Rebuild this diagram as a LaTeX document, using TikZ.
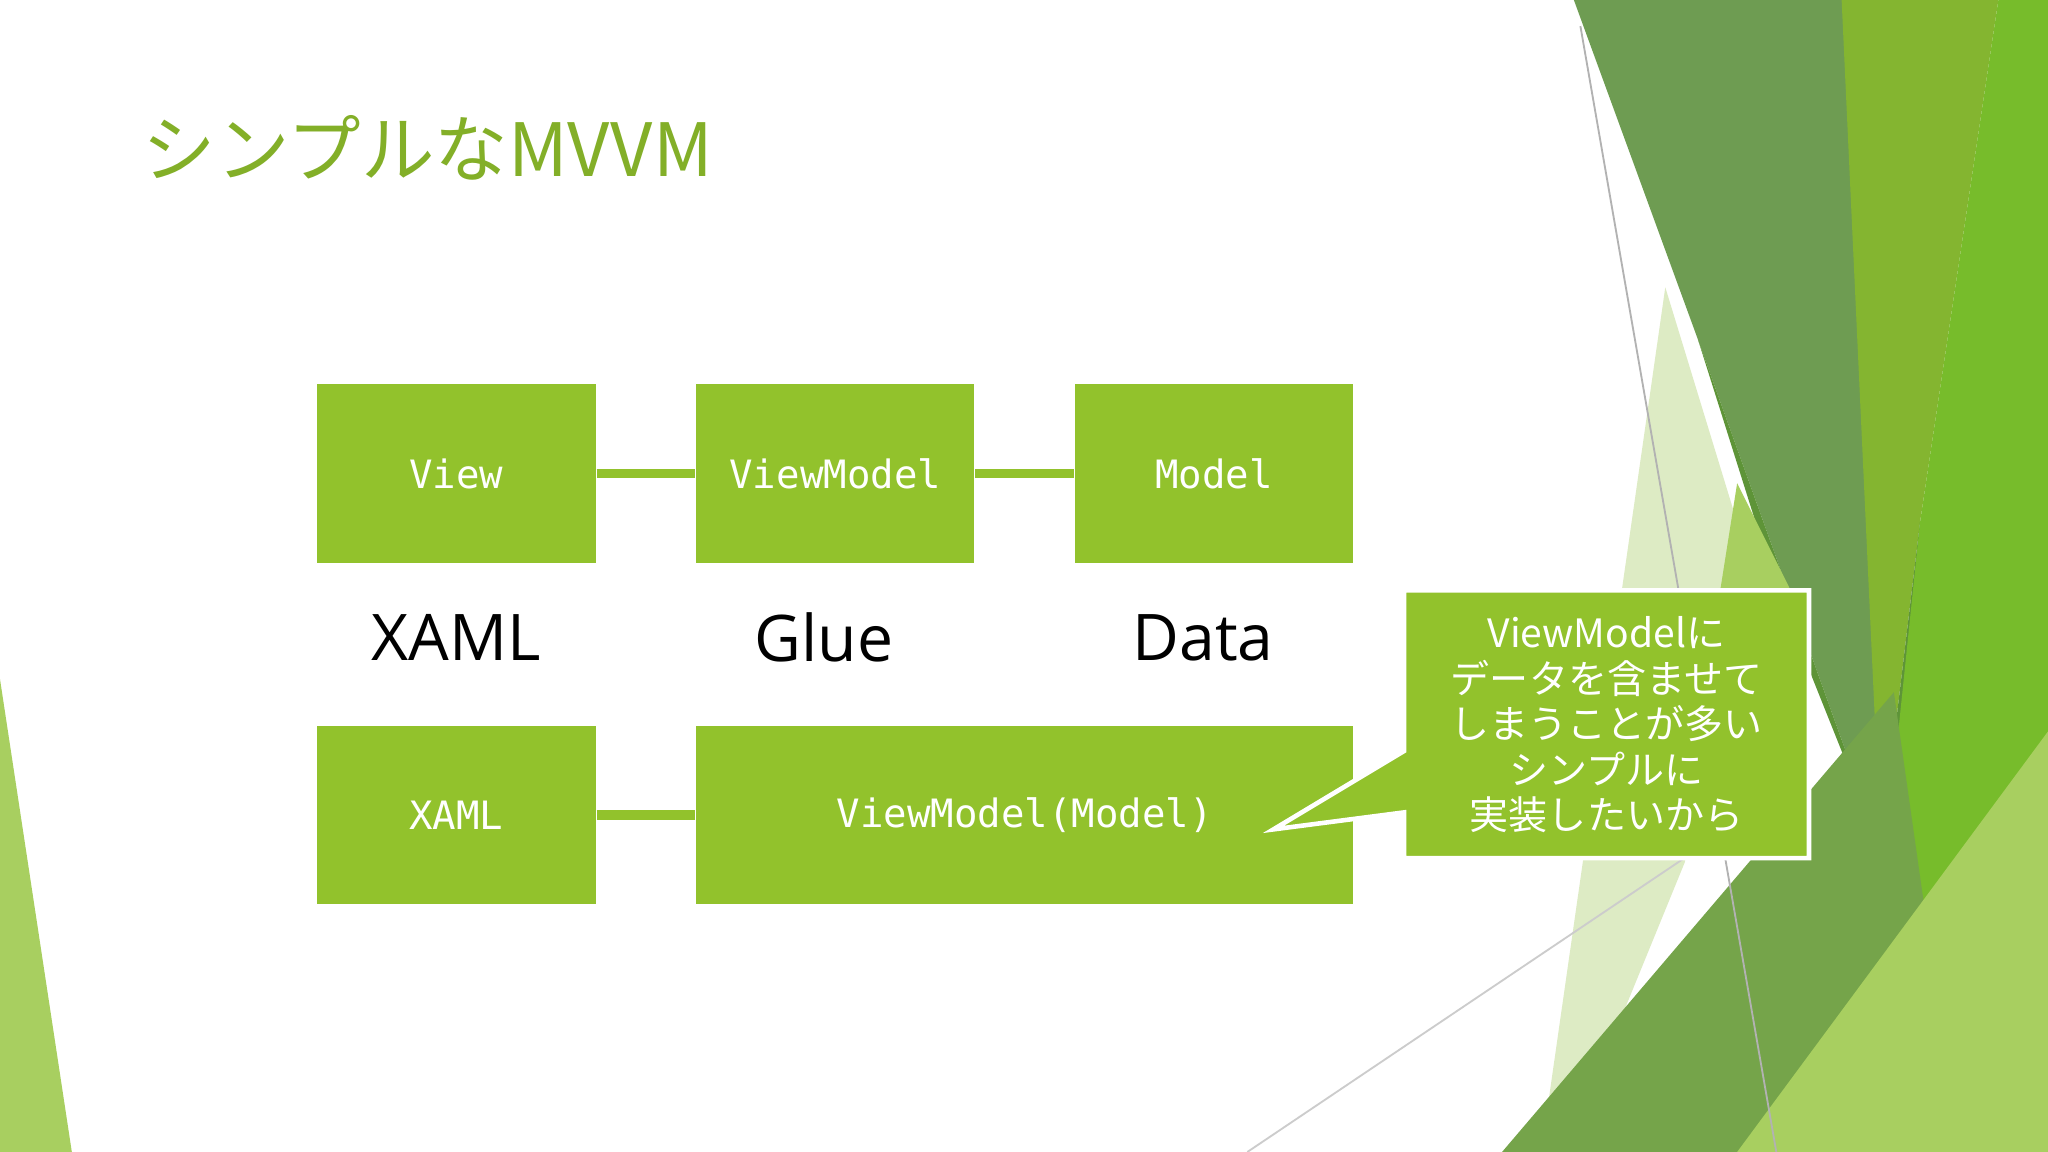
\documentclass[tikz,border=0pt]{standalone}
\usepackage{fontspec}
\setmainfont{Open Sans}
\newfontfamily\cjk{Noto Sans CJK JP}
\newfontfamily\mono{DejaVu Sans Mono}
\begin{document}
\begin{tikzpicture}[x=0.01cm,y=-0.01cm,
  box/.style={fill=G,draw=none,text=white,font=\mono\fontsize{8.5}{10}\selectfont},
  big/.style={font=\fontsize{14}{17}\selectfont},
  link/.style={draw=G,line width=2pt}]
\definecolor{G}{HTML}{92C22C}
\definecolor{D1}{HTML}{6E9C52}
\definecolor{D2}{HTML}{84B530}
\definecolor{D3}{HTML}{5E9438}
\definecolor{L1}{HTML}{DDEBC4}
\definecolor{L2}{HTML}{A8CF60}
\useasboundingbox (0,0) rectangle (1568,882);
\fill[white] (0,0) rectangle (1568,882);
% background shapes
\fill[L1] (1275,220) -- (1330,400) -- (1290,660) -- (1200,880) -- (1180,882) -- cycle;
\fill[D1] (1205,0) -- (1420,0) -- (1440,650) -- (1300,260) -- cycle;
\fill[D3] (1300,260) -- (1440,650) -- (1360,450) -- cycle;
\fill[L2] (1330,370) -- (1370,450) -- (1300,560) -- cycle;
\fill[D2] (1410,0) -- (1530,0) -- (1470,400) -- (1440,650) -- cycle;
\fill[D3] (1470,400) -- (1500,560) -- (1440,650) -- cycle;
\fill[D2!90!green] (1530,0) -- (1568,0) -- (1568,882) -- (1420,882) -- (1470,400) -- cycle;
\fill[D1!80!G] (1150,882) -- (1450,530) -- (1500,882) -- cycle;
\fill[L2] (1330,882) -- (1568,560) -- (1568,882) -- cycle;
\fill[L2] (0,520) -- (55,882) -- (0,882) -- cycle;
\draw[gray!60,line width=0.4pt] (1210,20) -- (1360,882);
\draw[gray!40,line width=0.4pt] (955,882) -- (1300,650);
% title
\node[anchor=west,text=G!90!black,font=\cjk\fontsize{16}{20}\selectfont] (title) at (97,113) {シンプルなMVVM};
% boxes
\node[box,minimum width=2.13cm,minimum height=1.37cm] (view) at (349.5,362.5) {View};
\node[box,minimum width=2.13cm,minimum height=1.37cm] (vm) at (639.5,362.5) {ViewModel};
\node[box,minimum width=2.13cm,minimum height=1.37cm] (model) at (929.5,362.5) {Model};
\node[box,minimum width=2.13cm,minimum height=1.36cm] (xaml) at (349.5,624) {XAML};
\node[box,minimum width=5.03cm,minimum height=1.36cm] (vmm) at (784.5,624) {ViewModel(Model)};
\draw[link] (view) -- (vm);
\draw[link] (vm) -- (model);
\draw[link] (xaml) -- (vmm);
% labels
\node[big] (l1) at (349,488) {XAML};
\node[big] (l2) at (631,488) {Glue};
\node[big] (l3) at (921,488) {Data};
% callout
\coordinate (tip) at (975,635);
\fill[G,draw=white,line width=1pt] (1075,452) -- (1385,452) -- (1385,657) -- (1075,657) -- (1075,622) -- (tip) -- (1075,575) -- cycle;
\node[text=white,align=center,font=\cjk\fontsize{8.5}{9.9}\selectfont] (note) at (1230,555) {ViewModelに\\データを含ませて\\しまうことが多い\\シンプルに\\実装したいから};
\end{tikzpicture}
\end{document}
